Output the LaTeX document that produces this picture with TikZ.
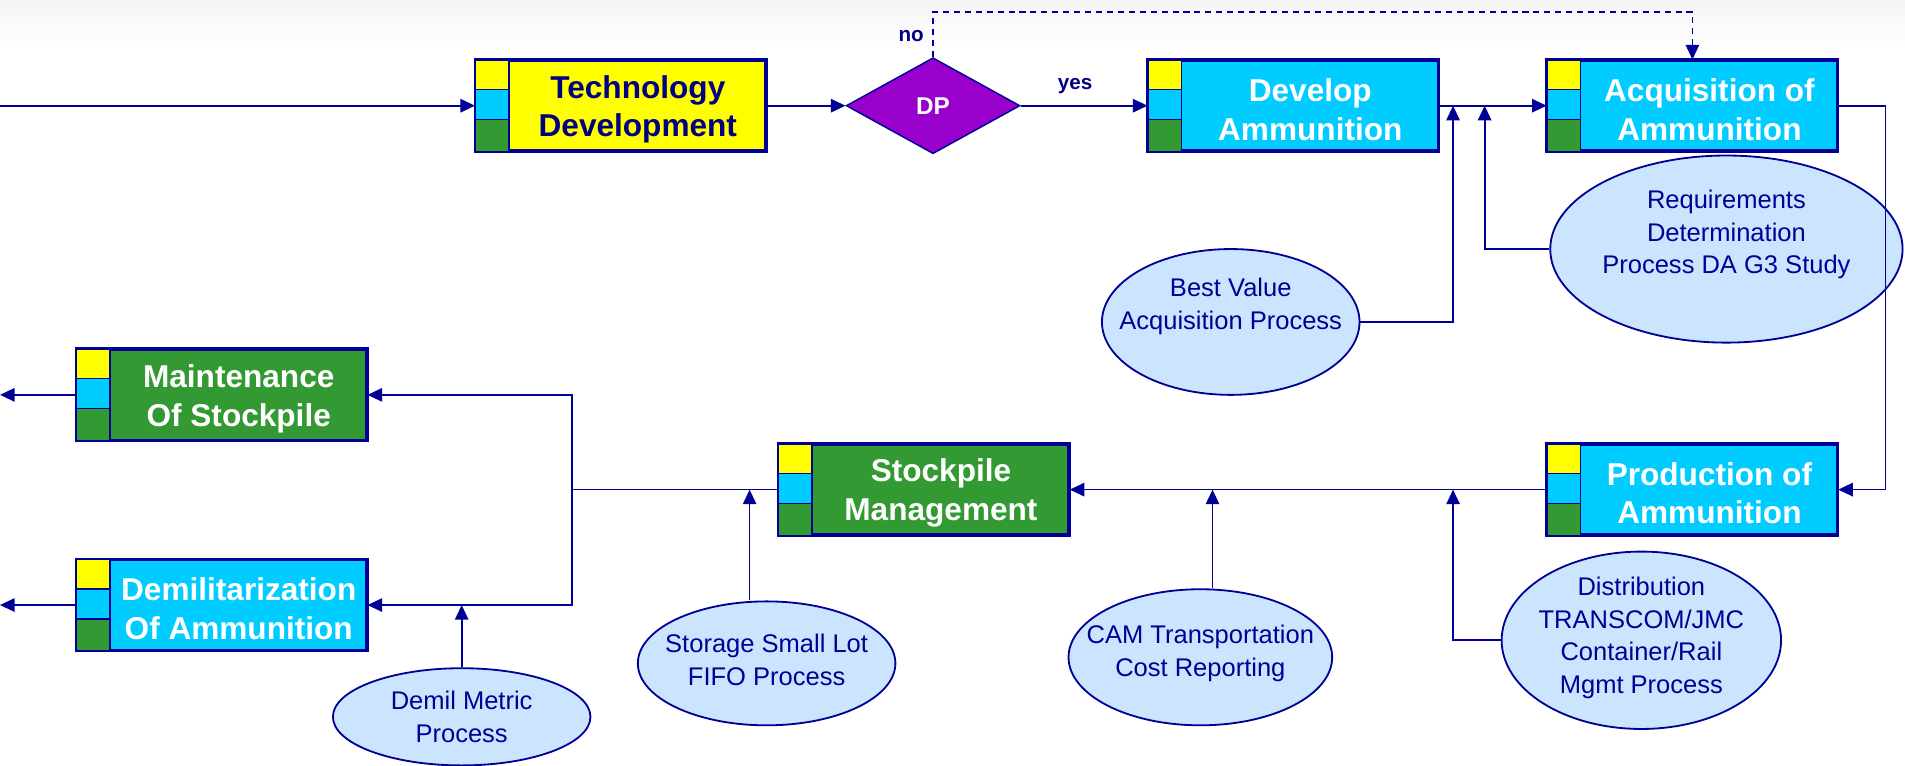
\documentclass[tikz,border=0pt]{standalone}
\usepackage{fontspec}
\setmainfont{Liberation Sans}
\usetikzlibrary{arrows.meta,shapes.geometric,calc}
\definecolor{navy}{RGB}{0,0,150}
\definecolor{txtnavy}{RGB}{0,0,128}
\definecolor{byel}{RGB}{255,255,0}
\definecolor{bcyan}{RGB}{0,204,255}
\definecolor{bgreen}{RGB}{51,153,51}
\definecolor{bpurple}{RGB}{153,0,204}
\definecolor{elfill}{RGB}{204,229,255}
\tikzset{
  conn/.style={draw=navy, line width=1.4pt},
  arr/.style={conn, -{Triangle[length=12pt,width=11pt]}},
  frame/.style={draw=navy, line width=2pt, minimum width=238pt, minimum height=74pt, inner sep=0pt},
  boxtext/.style={font=\bfseries\fontsize{26}{32}\selectfont, align=center, inner sep=0pt},
  proc/.style={ellipse, draw=navy, line width=1.5pt, fill=elfill, inner sep=0pt},
  proctext/.style={align=center, text=navy, inner sep=0pt, font=\fontsize{21}{27}\selectfont},
  lbl/.style={text=txtnavy, font=\bfseries\fontsize{17}{20}\selectfont, inner sep=0pt}
}
\newcommand\pbox[5]{%
  \node[frame, fill=#3] (#1) at #2 {};
  \filldraw[fill=byel, draw=navy, line width=1.2pt] (#1.north west) rectangle ($(#1.north west)+(28,24.7)$);
  \filldraw[fill=bcyan, draw=navy, line width=1.2pt] ($(#1.north west)+(0,24.7)$) rectangle ($(#1.north west)+(28,49.3)$);
  \filldraw[fill=bgreen, draw=navy, line width=1.2pt] ($(#1.north west)+(0,49.3)$) rectangle ($(#1.south west)+(28,0)$);
  \draw[navy, line width=2pt] (#1.north west) rectangle (#1.south east);
  \node[boxtext, text=#4] (#1-t) at ($(#1.center)+(14,3)$) {#5};
}
\newcommand\proc[6]{%
  \node[proc, minimum width=#3, minimum height=#4] (#1) at #2 {};
  \node[proctext] (#1-t) at ($(#1.center)+(0,#5)$) {#6};
}
\begin{document}
\begin{tikzpicture}[x=1pt,y=-1pt]
\useasboundingbox (0,0) rectangle (1568,630);
\shade[top color=black!4, bottom color=white, draw=none] (0,0) rectangle (1568,40);

% boxes
\pbox{td}{(511,87)}{byel}{txtnavy}{Technology\\Development}
\pbox{dev}{(1064.5,87)}{bcyan}{white}{Develop\\Ammunition}
\pbox{acq}{(1393,87)}{bcyan}{white}{Acquisition of\\Ammunition}
\pbox{prod}{(1393,403)}{bcyan}{white}{Production of\\Ammunition}
\pbox{sm}{(760.5,403)}{bgreen}{white}{Stockpile\\Management}
\pbox{maint}{(182.5,325)}{bgreen}{white}{Maintenance\\Of Stockpile}
\pbox{demil}{(182.5,498)}{bcyan}{white}{Demilitarization\\Of Ammunition}

% decision
\node[diamond, aspect=1.81, minimum width=143pt, minimum height=79pt, inner sep=0pt,
  fill=bpurple, draw=navy, line width=1.2pt, text=white, font=\bfseries\fontsize{20}{24}\selectfont] (dp) at (768,87) {DP};
\node[lbl] (no) at (750,30) {no};
\node[lbl] (yes) at (885,71) {yes};

% process ellipses
\proc{bv}{(1013,265)}{212pt}{120pt}{-13}{Best Value\\Acquisition Process}
\proc{req}{(1421,205)}{290pt}{154pt}{-12}{Requirements\\Determination\\Process DA G3 Study}
\proc{dm}{(380,590)}{212pt}{80pt}{0}{Demil Metric\\Process}
\proc{st}{(631,546)}{212pt}{102pt}{-3}{Storage Small Lot\\FIFO Process}
\proc{cam}{(988,541)}{217pt}{112pt}{-3}{CAM Transportation\\Cost Reporting}
\proc{dist}{(1351,527)}{230pt}{146pt}{-2}{Distribution\\TRANSCOM/JMC\\Container/Rail\\Mgmt Process}

% coordinates
\coordinate (inL) at (0,87);
\coordinate (outM) at (0,325);
\coordinate (outD) at (0,498);
\coordinate (top) at (768,10);
\coordinate (right) at (1552,87);
\coordinate (j) at (471,403);
\coordinate (bvT) at (1196,87);
\coordinate (reqT) at (1222,87);
\coordinate (dmT) at (380,498);
\coordinate (stT) at (617,403);
\coordinate (camT) at (998,403);
\coordinate (distT) at (1196,403);

% connectors
\draw[arr] (inL) -- (td.west);
\draw[arr] (td.east) -- (dp.west);
\draw[arr] (dp.east) -- (dev.west);
\draw[arr] (dev.east) -- (acq.west);
\draw[arr, dashed, dash pattern=on 5pt off 4pt, line width=1.1pt] (dp.north) -- (top) -| (acq.north);
\draw[arr] (acq.east) -- (right) |- (prod.east);
\draw[arr] (prod.west) -- (sm.east);
\draw[conn] (sm.west) -- (j);
\draw[arr] (j) |- (maint.east);
\draw[arr] (j) |- (demil.east);
\draw[arr] (maint.west) -- (outM);
\draw[arr] (demil.west) -- (outD);
\draw[arr] (bv.east) -| (bvT);
\draw[arr] (req.west) -| (reqT);
\draw[arr] (dm.north) -- (dmT);
\draw[arr] (stT |- st.north) -- (stT);
\draw[arr] (camT |- cam.north) -- (camT);
\draw[arr] (dist.west) -| (distT);
\end{tikzpicture}
\end{document}
